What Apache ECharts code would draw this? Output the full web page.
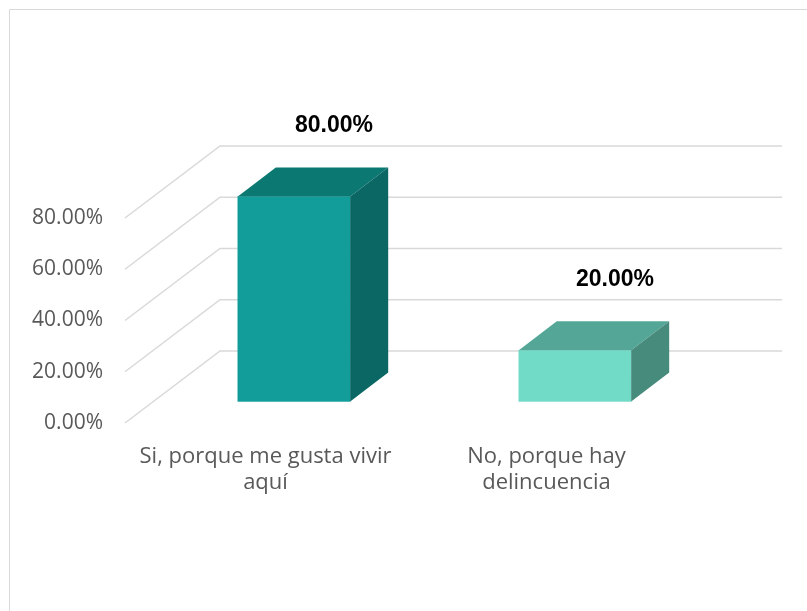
<!DOCTYPE html>
<html>
<head>
<meta charset="utf-8">
<script src="https://cdn.jsdelivr.net/npm/echarts@6/dist/echarts.min.js"></script>
<style>html,body{margin:0;padding:0;background:#fff}#c{width:807px;height:611px}</style>
</head>
<body>
<div id="c"></div>
<script>
// ---- data ----
var categories = ['Si, porque me gusta vivir\naquí', 'No, porque hay\ndelincuencia'];
var values = [0.80, 0.20];
var tickValues = [0, 0.2, 0.4, 0.6, 0.8];
var frontColors = ['#129D9B', '#72DBC8'];
var topColors = ['#0B7872', '#54A797'];
var sideColors = ['#0A6763', '#478B7C'];

// ---- 3D projection styling ----
var DX = 95, DY = 72;        // full depth offset in px
var D0 = 0.3, D1 = 0.7;      // bar depth range
var BAR_FRAC = 0.4;          // bar width as fraction of band

function pct(v) { return (v * 100).toFixed(2) + '%'; }

var chart = echarts.init(document.getElementById('c'));
chart.setOption({
  backgroundColor: '#fff',
  animation: false,
  graphic: [{
    type: 'rect', shape: { x: 9.5, y: 9.5, width: 820, height: 620 },
    style: { fill: 'none', stroke: '#D9D9D9', lineWidth: 1 }, silent: true
  }],
  grid: { left: 125, right: 120, top: 218, bottom: 188 },
  xAxis: {
    type: 'category', data: categories,
    axisLine: { show: false }, axisTick: { show: false },
    axisLabel: { color: '#595959', fontSize: 22, fontFamily: 'Open Sans', margin: 21, lineHeight: 26,
      interval: 0, hideOverlap: false }
  },
  yAxis: {
    type: 'value', min: 0, max: 0.8, interval: 0.2,
    axisLine: { show: false }, axisTick: { show: false }, splitLine: { show: false },
    axisLabel: { color: '#595959', fontSize: 21, fontFamily: 'Open Sans', margin: 22,
      formatter: function (v) { return pct(v); }, padding: [4, 0, 0, 0] }
  },
  series: [
    {
      type: 'custom', z: 1, silent: true, clip: false,
      data: tickValues.map(function (v) { return [0, v]; }),
      renderItem: function (params, api) {
        var bw = api.size([1, 0])[0];
        var p = api.coord([0, api.value(1)]);
        var x0 = p[0] - bw / 2, y0 = p[1];
        var xEnd = x0 + bw * categories.length + DX;
        return {
          type: 'polyline',
          shape: { points: [[x0, y0], [x0 + DX, y0 - DY], [xEnd, y0 - DY]] },
          style: { stroke: '#D9D9D9', lineWidth: 1.5, fill: null }
        };
      }
    },
    {
      type: 'custom', z: 2, silent: true, clip: false,
      data: values.map(function (v, i) { return [i, v]; }),
      renderItem: function (params, api) {
        var i = api.value(0);
        var bw = api.size([1, 0])[0];
        var w = bw * BAR_FRAC;
        var pt = api.coord([i, api.value(1)]);
        var pb = api.coord([i, 0]);
        var x0 = pt[0] + D0 * DX - w / 2, x1 = x0 + w;
        var yT = pt[1] - D0 * DY, yB = pb[1] - D0 * DY;
        var ddx = (D1 - D0) * DX, ddy = (D1 - D0) * DY;
        var idx = params.dataIndex;
        return {
          type: 'group',
          children: [
            { type: 'polygon', shape: { points: [[x0, yB], [x1, yB], [x1, yT], [x0, yT]] },
              style: { fill: frontColors[idx], stroke: frontColors[idx], lineWidth: 0.5 } },
            { type: 'polygon', shape: { points: [[x0, yT], [x1, yT], [x1 + ddx, yT - ddy], [x0 + ddx, yT - ddy]] },
              style: { fill: topColors[idx] } },
            { type: 'polygon', shape: { points: [[x1, yT], [x1 + ddx, yT - ddy], [x1 + ddx, yB - ddy], [x1, yB]] },
              style: { fill: sideColors[idx] } },
            { type: 'text',
              style: { text: pct(api.value(1)), x: pt[0] + D1 * DX + 2, y: pt[1] - D1 * DY - 42,
                align: 'center', verticalAlign: 'middle', fill: '#000',
                fontSize: 23, fontWeight: 'bold', fontFamily: 'Liberation Sans' } }
          ]
        };
      }
    }
  ]
});
</script>
</body>
</html>
